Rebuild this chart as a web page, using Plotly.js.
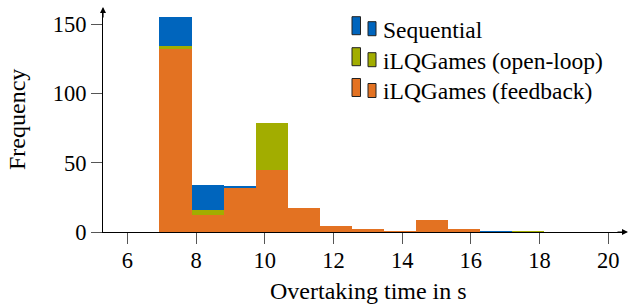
<!DOCTYPE html>
<html>
<head>
<meta charset="utf-8">
<script src="https://cdn.plot.ly/plotly-3.0.1.min.js"></script>
<style>html,body{margin:0;padding:0;background:#fff;}#chart{width:629px;height:307px;}</style>
</head>
<body>
<div id="chart"></div>
<script>
// Histogram bins: 15 bins from 6 to 20
const binCenters = [6.467, 7.400, 8.333, 9.267, 10.200, 11.133, 12.067, 13.000, 13.933, 14.867, 15.800, 16.733, 17.667, 18.600, 19.533];
const binWidth = 0.9333;

const seriesNames = ["Sequential", "iLQGames (open-loop)", "iLQGames (feedback)"];
const sequential = [0, 155, 34, 33, 40, 12, 3, 1, 1, 5, 1, 1, 0, 0, 0];
const openLoop   = [0, 134, 16, 32, 79, 15, 3, 1, 0, 6, 1, 0, 1, 0, 0];
const feedback   = [0, 132, 12, 32, 45, 17, 4, 2, 1, 9, 2, 0, 0, 0, 0];
const colors = ["#0065BD", "#A2AD00", "#E37222"];

const xTicks = [6, 8, 10, 12, 14, 16, 18, 20];
const yTicks = [0, 50, 100, 150];

const FONT = "Liberation Serif, Times New Roman, serif";
const W = 629, H = 307, L = 103, R = 7, T = 9, B = 75;
const pw = W - L - R, ph = H - T - B;
const px = v => (v - L) / pw;
const py = v => (H - B - v) / ph;

const allSeries = [sequential, openLoop, feedback];
const traces = allSeries.map((s, i) => ({
  type: "bar", x: binCenters, y: s, width: binWidth, name: seriesNames[i],
  marker: {color: colors[i], line: {width: 0}}, showlegend: false, hoverinfo: "skip"
}));

// custom legend (two small bars per entry, like pgfplots ybar legend)
const shapes = [];
const annotations = [];
const rowTop = [16.7, 47.7, 78.5];
const rowText = [29.5, 61, 91];
seriesNames.forEach((n, i) => {
  const t = rowTop[i];
  shapes.push({type: "rect", xref: "paper", yref: "paper",
    x0: px(352), x1: px(360.5), y0: py(t + 18), y1: py(t),
    fillcolor: colors[i], line: {color: "#222", width: 1}});
  shapes.push({type: "rect", xref: "paper", yref: "paper",
    x0: px(368), x1: px(376), y0: py(t + 19), y1: py(t + 5),
    fillcolor: colors[i], line: {color: "#222", width: 1}});
  annotations.push({xref: "paper", yref: "paper", x: px(381), y: py(rowText[i]),
    xanchor: "left", yanchor: "middle", showarrow: false, text: n,
    font: {family: FONT, size: 23.5, color: "#000"}});
});
// axis arrows
annotations.push({xref: "paper", yref: "paper", x: px(628), y: 0, ax: -12, ay: 0,
  axref: "pixel", ayref: "pixel", showarrow: true, arrowhead: 2, arrowsize: 1, arrowwidth: 1.2,
  arrowcolor: "#000", text: ""});
annotations.push({xref: "paper", yref: "paper", x: 0, y: py(7), ax: 0, ay: 12,
  axref: "pixel", ayref: "pixel", showarrow: true, arrowhead: 2, arrowsize: 1, arrowwidth: 1.2,
  arrowcolor: "#000", text: ""});
// axis titles
annotations.push({xref: "paper", yref: "paper", x: px(368), y: py(291), xanchor: "center", yanchor: "middle",
  showarrow: false, text: "Overtaking time in s", font: {family: FONT, size: 24, color: "#000"}});
annotations.push({xref: "paper", yref: "paper", x: px(17), y: py(120), xanchor: "center", yanchor: "middle",
  showarrow: false, textangle: -90, text: "Frequency", font: {family: FONT, size: 24, color: "#000"}});

const layout = {
  width: W, height: H,
  margin: {l: L, r: R, t: T, b: B, pad: 0},
  paper_bgcolor: "#fff", plot_bgcolor: "#fff",
  barmode: "overlay", bargap: 0,
  font: {family: FONT, size: 22, color: "#000"},
  xaxis: {range: [5.29, 20.40], tickvals: xTicks, ticktext: xTicks.map(String),
    showgrid: false, zeroline: false, showline: true, linecolor: "#000", linewidth: 1,
    ticks: "outside", ticklen: 11, tickcolor: "#555", tickwidth: 1, ticklabelstandoff: -3,
    tickfont: {family: FONT, size: 22.5, color: "#000"}, fixedrange: true},
  yaxis: {range: [0, 161], tickvals: yTicks, ticktext: yTicks.map(String),
    showgrid: false, zeroline: false, showline: true, linecolor: "#000", linewidth: 1,
    ticks: "outside", ticklen: 11, tickcolor: "#555", tickwidth: 1,
    tickfont: {family: FONT, size: 22.5, color: "#000"}, fixedrange: true},
  shapes: shapes,
  annotations: annotations,
  showlegend: false
};
Plotly.newPlot("chart", traces, layout, {displayModeBar: false, staticPlot: true});
</script>
</body>
</html>
